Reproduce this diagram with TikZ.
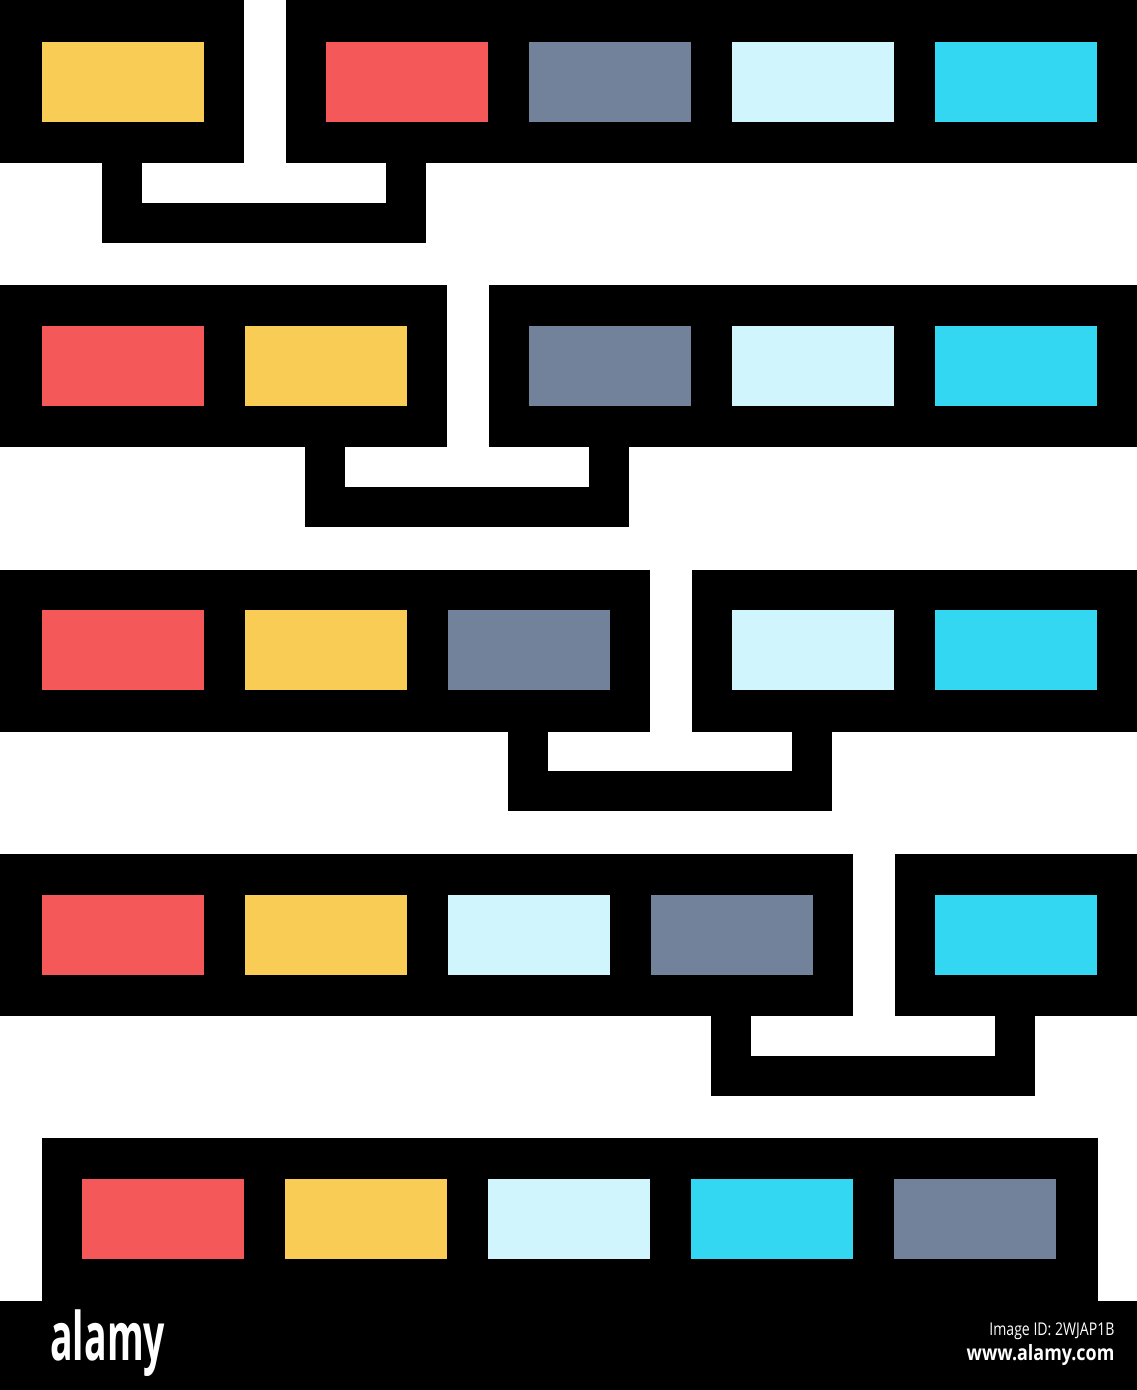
\documentclass[tikz,border=0pt]{standalone}
\usepackage{fontspec}
\setmainfont{Open Sans}
\definecolor{cYel}{HTML}{F9CC55}
\definecolor{cRed}{HTML}{F55858}
\definecolor{cGry}{HTML}{72829A}
\definecolor{cLgt}{HTML}{D0F5FC}
\definecolor{cCyn}{HTML}{34D7F2}
\begin{document}
\begin{tikzpicture}[x=0.01cm,y=-0.01cm,
  box/.style={fill=black,draw=none,inner sep=0pt,anchor=north west,minimum height=1.62cm},
  cell/.style={draw=none,inner sep=0pt,anchor=north west,minimum width=1.62cm,minimum height=0.80cm},
  conn/.style={draw=black,line width=0.40cm,line join=miter,line cap=butt}]
\useasboundingbox (0,0) rectangle (1137,1390);
\fill[white] (0,0) rectangle (1137,1390);
\begin{scope}
\clip (0,0) rectangle (1137,1390);
% ---------- row 1
\node[box,minimum width=2.53cm,minimum height=1.72cm] (b1l) at (-10,-10) {};
\node[box,minimum width=8.62cm,minimum height=1.72cm] (b1r) at (285,-10) {};
\node[cell,fill=cYel] (r1c1) at (41,41) {};
\node[cell,fill=cRed] (r1c2) at (325,41) {};
\node[cell,fill=cGry] (r1c3) at (528,41) {};
\node[cell,fill=cLgt] (r1c4) at (731,41) {};
\node[cell,fill=cCyn] (r1c5) at (934,41) {};
\coordinate (k1a) at (122,223);
\coordinate (k1b) at (406,223);
\draw[conn] ([yshift=2pt]b1l.south -| k1a) -- (k1a) -- (k1b) -- ([yshift=2pt]b1r.south -| k1b);
% ---------- row 2
\node[box,minimum width=4.56cm] (b2l) at (-10,284) {};
\node[box,minimum width=6.59cm] (b2r) at (488,284) {};
\node[cell,fill=cRed] (r2c1) at (41,325) {};
\node[cell,fill=cYel] (r2c2) at (244,325) {};
\node[cell,fill=cGry] (r2c3) at (528,325) {};
\node[cell,fill=cLgt] (r2c4) at (731,325) {};
\node[cell,fill=cCyn] (r2c5) at (934,325) {};
\coordinate (k2a) at (325,507);
\coordinate (k2b) at (609,507);
\draw[conn] ([yshift=2pt]b2l.south -| k2a) -- (k2a) -- (k2b) -- ([yshift=2pt]b2r.south -| k2b);
% ---------- row 3
\node[box,minimum width=6.59cm] (b3l) at (-10,569) {};
\node[box,minimum width=4.56cm] (b3r) at (691,569) {};
\node[cell,fill=cRed] (r3c1) at (41,609) {};
\node[cell,fill=cYel] (r3c2) at (244,609) {};
\node[cell,fill=cGry] (r3c3) at (447,609) {};
\node[cell,fill=cLgt] (r3c4) at (731,609) {};
\node[cell,fill=cCyn] (r3c5) at (934,609) {};
\coordinate (k3a) at (528,791);
\coordinate (k3b) at (812,791);
\draw[conn] ([yshift=2pt]b3l.south -| k3a) -- (k3a) -- (k3b) -- ([yshift=2pt]b3r.south -| k3b);
% ---------- row 4
\node[box,minimum width=8.62cm] (b4l) at (-10,853) {};
\node[box,minimum width=2.53cm] (b4r) at (894,853) {};
\node[cell,fill=cRed] (r4c1) at (41,894) {};
\node[cell,fill=cYel] (r4c2) at (244,894) {};
\node[cell,fill=cLgt] (r4c3) at (447,894) {};
\node[cell,fill=cGry] (r4c4) at (650,894) {};
\node[cell,fill=cCyn] (r4c5) at (934,894) {};
\coordinate (k4a) at (731,1076);
\coordinate (k4b) at (1015,1076);
\draw[conn] ([yshift=2pt]b4l.south -| k4a) -- (k4a) -- (k4b) -- ([yshift=2pt]b4r.south -| k4b);
% ---------- row 5
\node[box,minimum width=10.56cm,minimum height=1.70cm] (b5) at (41,1137) {};
\node[cell,fill=cRed] (r5c1) at (81,1178) {};
\node[cell,fill=cYel] (r5c2) at (284,1178) {};
\node[cell,fill=cLgt] (r5c3) at (487,1178) {};
\node[cell,fill=cCyn] (r5c4) at (690,1178) {};
\node[cell,fill=cGry] (r5c5) at (893,1178) {};
% ---------- bottom bar
\node[fill=black,draw=none,inner sep=0pt,anchor=north west,minimum width=11.57cm,minimum height=1.00cm] (bar) at (-10,1300) {};
\end{scope}
\node[text=white,font=\bfseries\fontsize{19}{19}\selectfont,anchor=west,inner sep=0pt,xscale=0.56] (logo) at (50,1343) {alamy};
\node[text=white,font=\fontsize{5}{5}\selectfont,anchor=east,inner sep=0pt,xscale=0.8] (imgid) at (1115,1331) {Image ID: 2WJAP1B};
\node[text=white,font=\bfseries\fontsize{6}{6}\selectfont,anchor=east,inner sep=0pt,xscale=0.85] (url) at (1115,1355) {www.alamy.com};
\end{tikzpicture}
\end{document}
